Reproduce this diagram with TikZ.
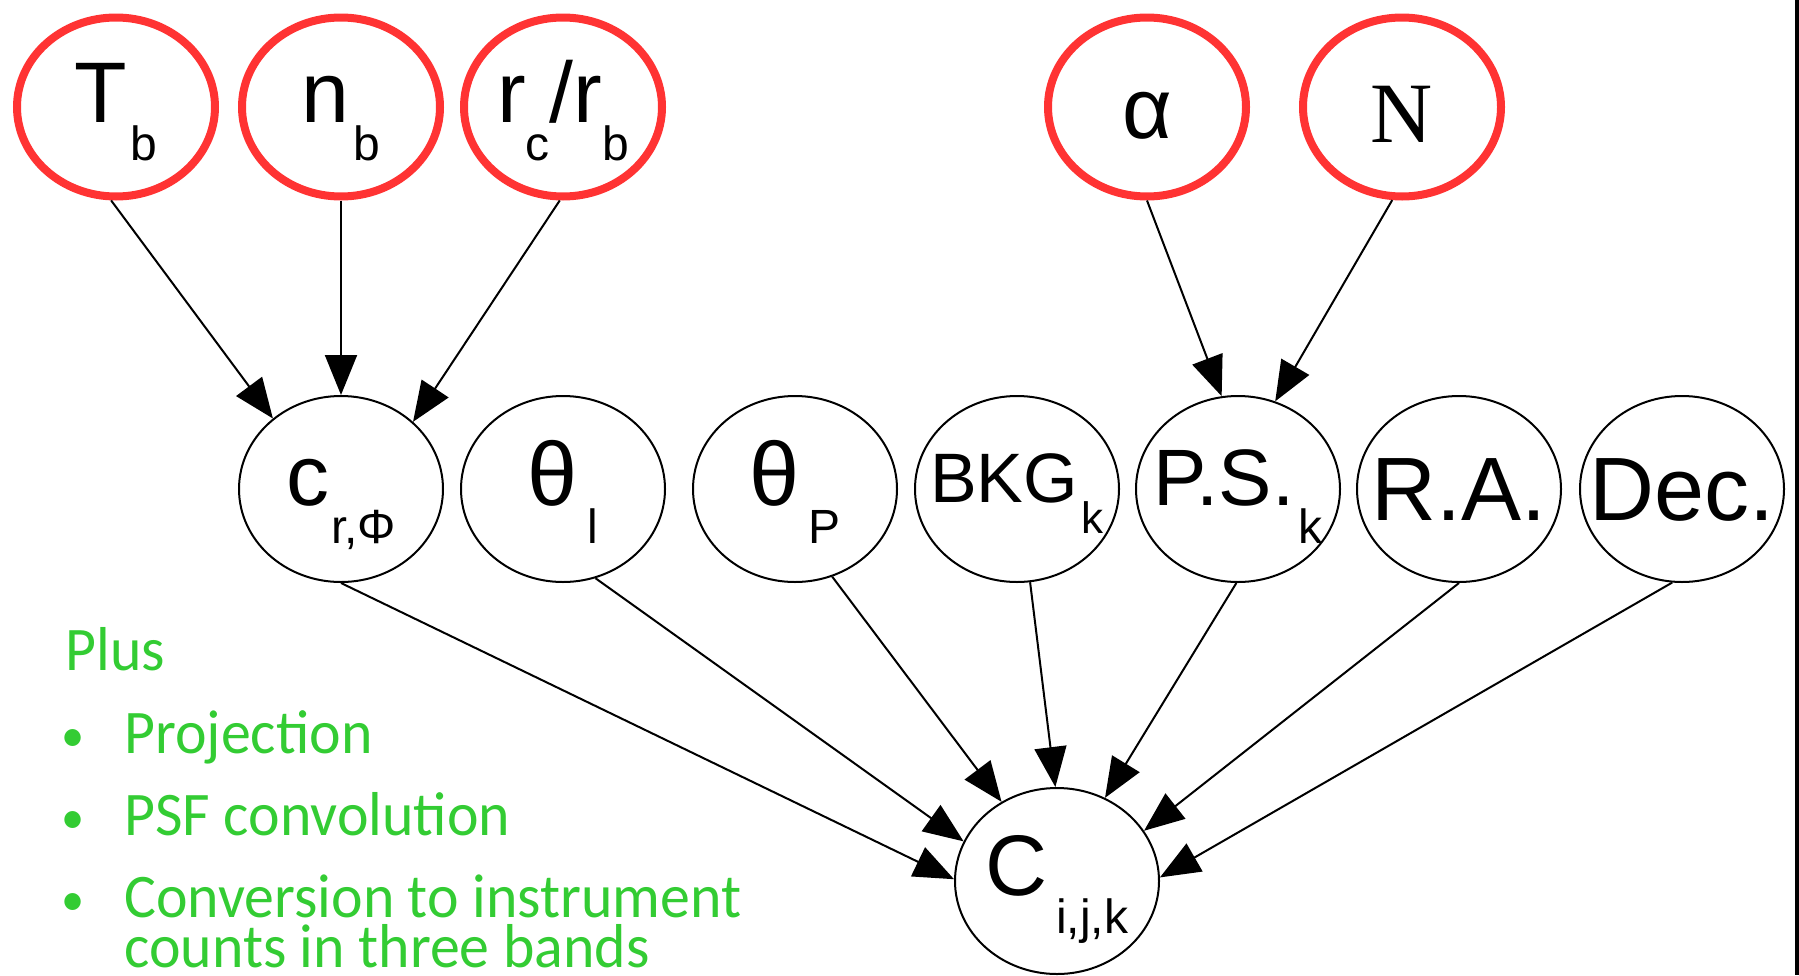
\documentclass[tikz,border=0pt]{standalone}
\usepackage{fontspec}
\setmainfont{Liberation Sans}
\newfontfamily\serifN{Liberation Serif}
\newfontfamily\greenfont[FakeStretch=0.965]{Carlito}
\usetikzlibrary{arrows.meta,shapes.geometric,calc}
\definecolor{nodered}{RGB}{255,51,51}
\definecolor{notegreen}{RGB}{51,204,51}
\newcommand\mainsz{\fontsize{43}{43}\selectfont}
\newcommand\subsz{\fontsize{24}{24}\selectfont}
\newcommand\lowsub[1]{\raisebox{-19pt}{\subsz #1}}
\begin{document}
\begin{tikzpicture}[x=0.5pt,y=-0.5pt,
  param/.style={ellipse, draw=nodered, line width=4pt, minimum width=99pt, minimum height=89.5pt, inner sep=0pt},
  var/.style={ellipse, draw=black, line width=1pt, minimum width=102pt, minimum height=93pt, inner sep=0pt},
  lbl/.style={anchor=base, inner sep=0pt, font=\mainsz},
  edge/.style={-{Triangle[length=20pt,width=16pt]}, line width=1pt},
  note/.style={anchor=base west, inner sep=0pt, text=notegreen, font=\greenfont\fontsize{31}{31}\selectfont},
  dot/.style={anchor=base, inner sep=0pt, text=notegreen, font=\greenfont\fontsize{24}{24}\selectfont}
]
\useasboundingbox (0,0) rectangle (1799,975);
% parameter nodes
\node[param] (Tb) at (116,107) {};
\node[param] (nb) at (341,107) {};
\node[param] (rc) at (563,107) {};
\node[param] (al) at (1147,107) {};
\node[param] (N)  at (1402,107) {};
% variable nodes
\node[var] (c)   at (341,489) {};
\node[var] (tl)  at (563,489) {};
\node[var] (tp)  at (795,489) {};
\node[var] (bkg) at (1017,489) {};
\node[var] (ps)  at (1238,489) {};
\node[var] (ra)  at (1459,489) {};
\node[var] (dec) at (1682,489) {};
\node[var] (C)   at (1057,881) {};
% labels
\node[lbl] (Tbl) at ($(Tb)+(0,15)$) {T\kern2pt\lowsub{b}};
\node[lbl] (nbl) at ($(nb)+(0,15)$) {n\kern2pt\lowsub{b}};
\node[lbl] (rcl) at ($(rc)+(0,15)$) {r\lowsub{c}/r\lowsub{b}};
\node[lbl] (all) at ($(al)+(0,31)$) {α};
\node[lbl, font=\serifN\fontsize{43}{43}\selectfont] (Nl) at ($(N)+(0,35)$) {N};
\node[lbl] (cl)  at ($(c)+(0,16)$) {c\kern1pt\lowsub{r,Φ}};
\node[lbl, font=\fontsize{45}{45}\selectfont] (tll) at ($(tl)+(0,16)$) {θ\kern5pt\lowsub{l}};
\node[lbl, font=\fontsize{45}{45}\selectfont] (tpl) at ($(tp)+(0,16)$) {θ\kern4pt\lowsub{P}};
\node[lbl, font=\fontsize{35}{35}\selectfont] (bkgl) at ($(bkg)+(0,13)$) {BKG\kern2pt\raisebox{-15.5pt}{\fontsize{22}{22}\selectfont k}};
\node[lbl, font=\fontsize{40}{40}\selectfont] (psl) at ($(ps)+(0,16)$) {P.S.\kern2pt\lowsub{k}};
\node[lbl, font=\fontsize{45}{45}\selectfont] (ral) at ($(ra)+(0,31)$) {R.A.};
\node[lbl, font=\fontsize{45}{45}\selectfont] (decl) at ($(dec)+(0,31)$) {Dec.};
\node[lbl] (Cl) at ($(C)+(0,14)$) {C\kern4pt\lowsub{i,j,k}};
% edges
\draw[edge] (Tb.-93) -- (c.134);
\draw[edge] (nb.south) -- (c.north);
\draw[edge] (rc.-92) -- (c.43);
\draw[edge] (al.south) -- (ps.100);
\draw[edge] (N.-96) -- (ps.67);
\draw[edge] (c.south) -- (C.179);
\draw[edge] (tl.-70) -- (C.157);
\draw[edge] (tp.-67) -- (C.125);
\draw[edge] (bkg.-82) -- (C.91);
\draw[edge] (ps.-91) -- (C.60);
\draw[edge] (ra.south) -- (C.30);
\draw[edge] (dec.-96) -- (C.2);
% notes
\node[note] (plus) at (65,670) {Plus};
\node[dot] (d1) at (73,751) {•};
\node[note] (b1) at (124,753) {Projection};
\node[dot] (d2) at (73,833) {•};
\node[note] (b2) at (124,835) {PSF convolution};
\node[dot] (d3) at (73,915) {•};
\node[note] (b3) at (124,917) {Conversion to instrument};
\node[note] (b4) at (124,967) {counts in three bands};
% right border line
\fill[black] (1795,0) rectangle (1799,975);
\end{tikzpicture}
\end{document}
